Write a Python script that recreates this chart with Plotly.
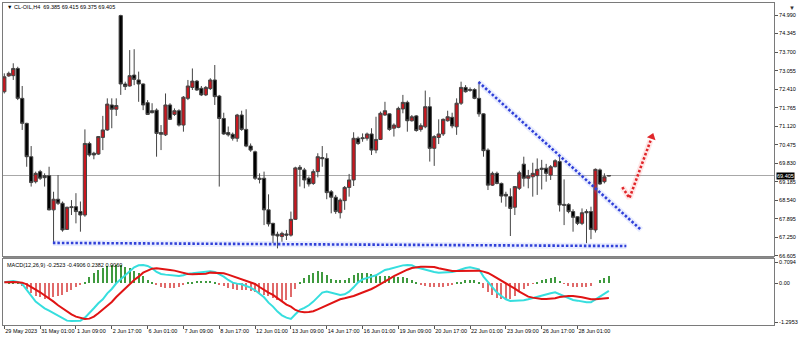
import plotly.graph_objects as go

# ---------------- data ----------------
opens = [
    72.32, 72.87, 72.88, 73.13, 72.09, 71.22, 70.06, 69.19, 69.54, 69.40,
    69.40, 68.21, 68.58, 68.44, 67.53, 68.32, 68.32, 68.15, 68.03, 70.52,
    70.18, 70.15, 70.73, 70.99, 71.86, 71.71, 74.97, 72.59, 72.52, 72.90,
    72.73, 72.59, 71.94, 71.66, 71.68, 70.90, 70.82, 71.86, 71.53, 71.66,
    71.16, 72.09, 72.47, 72.69, 72.44, 72.21, 72.43, 72.73, 72.17, 71.39,
    70.90, 70.84, 70.70, 71.51, 71.01, 70.43, 70.23, 69.31, 69.31, 68.21,
    67.74, 67.36, 67.28, 67.37, 67.33, 67.88, 69.69, 69.60, 69.31, 69.13,
    69.54, 70.03, 70.00, 68.84, 68.65, 68.11, 68.53, 68.99, 69.25, 70.70,
    70.72, 70.70, 70.85, 70.29, 70.66, 71.51, 71.55, 71.05, 71.08, 71.72,
    71.95, 71.31, 71.48, 71.01, 71.10, 71.80, 70.35, 70.73, 70.85, 71.31,
    71.43, 71.10, 71.92, 72.47, 72.40, 72.40, 72.09, 71.55, 70.29, 69.07,
    69.48, 69.13, 68.75, 68.67, 68.30, 68.96, 69.80, 69.31, 69.36, 69.40,
    69.66, 69.66, 69.42, 69.71, 69.89, 68.40, 68.40, 68.15, 67.97, 67.74,
    68.15, 68.15, 67.51, 69.60, 69.19, 69.385]
highs = [
    72.96, 73.02, 73.31, 73.19, 72.52, 71.24, 70.43, 69.54, 69.60, 69.48,
    69.71, 68.84, 69.42, 68.50, 68.32, 68.55, 68.79, 68.50, 71.01, 70.58,
    70.23, 70.78, 71.48, 72.09, 72.09, 72.09, 75.00, 72.67, 73.77, 73.80,
    73.02, 72.61, 72.03, 71.92, 71.74, 71.16, 72.26, 71.92, 71.74, 71.71,
    72.17, 72.73, 73.13, 72.73, 72.52, 72.52, 72.79, 73.25, 72.21, 71.59,
    71.11, 70.90, 71.55, 71.66, 71.71, 70.52, 70.27, 69.48, 69.54, 68.75,
    67.76, 67.45, 67.45, 67.51, 68.15, 69.71, 69.77, 69.67, 69.37, 69.62,
    70.18, 70.43, 70.18, 68.90, 68.73, 68.61, 69.04, 69.46, 70.91, 70.76,
    70.87, 70.90, 71.05, 71.45, 71.63, 71.97, 71.57, 71.22, 71.80, 72.21,
    72.01, 71.51, 71.51, 71.22, 72.36, 72.13, 70.81, 71.36, 71.39, 71.66,
    71.59, 72.09, 72.67, 72.55, 72.47, 72.44, 72.67, 71.57, 70.35, 69.54,
    69.54, 69.16, 68.84, 68.96, 69.04, 69.57, 70.06, 69.60, 69.85, 70.00,
    69.95, 69.81, 69.77, 69.97, 70.08, 69.27, 68.44, 68.23, 67.99, 68.26,
    68.23, 68.32, 69.65, 69.65, 69.48, 69.415]
lows = [
    72.26, 72.84, 72.73, 72.03, 70.99, 69.71, 69.02, 69.13, 69.25, 69.02,
    68.19, 67.05, 68.38, 67.45, 67.51, 68.03, 67.74, 67.45, 67.97, 70.06,
    69.97, 70.12, 70.29, 70.96, 71.05, 71.48, 72.21, 72.38, 72.50, 72.55,
    71.97, 71.68, 71.51, 71.57, 70.06, 70.29, 70.78, 71.34, 71.48, 71.11,
    70.93, 72.03, 72.38, 72.35, 72.17, 72.17, 72.38, 71.86, 69.02, 70.82,
    70.76, 70.62, 70.58, 70.96, 70.39, 70.23, 69.25, 69.13, 67.68, 67.63,
    67.05, 66.87, 67.10, 67.16, 67.28, 67.86, 69.02, 68.96, 69.02, 69.08,
    69.34, 69.71, 68.58, 68.09, 68.07, 67.91, 68.21, 68.67, 69.04, 70.47,
    70.58, 70.62, 70.12, 70.18, 70.64, 71.48, 70.96, 70.76, 71.05, 71.57,
    70.93, 71.28, 70.93, 70.93, 71.05, 69.89, 69.74, 70.50, 70.78, 71.28,
    71.05, 70.82, 71.86, 72.29, 72.32, 72.06, 71.45, 70.06, 68.90, 69.04,
    69.10, 68.46, 68.32, 67.30, 68.03, 68.90, 69.02, 68.96, 68.67, 68.73,
    68.92, 69.19, 69.25, 69.69, 68.15, 67.68, 68.09, 67.45, 67.68, 67.68,
    67.05, 67.19, 67.42, 69.08, 69.13, 69.375]
closes = [
    72.84, 72.96, 73.13, 72.09, 71.22, 70.06, 69.16, 69.48, 69.31, 69.33,
    68.21, 68.58, 68.44, 67.51, 68.30, 68.29, 68.15, 68.03, 70.52, 70.12,
    70.12, 70.76, 70.99, 71.89, 71.71, 71.84, 72.59, 72.50, 72.88, 72.75,
    72.59, 71.86, 71.53, 71.59, 70.87, 70.84, 71.86, 71.36, 71.66, 71.16,
    72.13, 72.52, 72.69, 72.38, 72.21, 72.47, 72.73, 72.15, 71.39, 70.85,
    70.82, 70.70, 71.51, 71.01, 70.43, 70.29, 69.31, 69.27, 68.21, 67.72,
    67.33, 67.30, 67.39, 67.33, 67.88, 69.67, 69.62, 69.25, 69.11, 69.54,
    70.06, 69.99, 68.81, 68.65, 68.15, 68.55, 68.99, 69.25, 70.70, 70.52,
    70.69, 70.85, 70.29, 70.66, 71.57, 71.66, 71.01, 71.16, 71.74, 71.95,
    71.31, 71.45, 70.97, 71.14, 71.80, 70.35, 70.76, 70.85, 71.36, 71.45,
    71.13, 71.92, 72.47, 72.32, 72.37, 72.09, 71.55, 70.27, 69.07, 69.48,
    69.13, 68.69, 68.69, 68.26, 69.02, 69.50, 69.31, 69.40, 69.48, 69.62,
    69.62, 69.48, 69.71, 69.92, 68.38, 68.37, 68.15, 67.95, 67.74, 68.11,
    68.11, 67.53, 69.62, 69.11, 69.36, 69.405]

macd_line = [
    0.033, 0.056, 0.078, 0.045, -0.022, -0.223, -0.424, -0.613, -0.725, -0.836,
    -0.914, -1.003, -1.093, -1.182, -1.249, -1.260, -1.260, -1.249, -1.148, -1.003,
    -0.836, -0.669, -0.535, -0.334, -0.190, 0.000, 0.134, 0.256, 0.390, 0.535,
    0.602, 0.613, 0.580, 0.502, 0.379, 0.312, 0.290, 0.279, 0.268, 0.245,
    0.268, 0.323, 0.334, 0.357, 0.368, 0.390, 0.401, 0.379, 0.312, 0.223,
    0.111, 0.022, -0.011, -0.033, -0.089, -0.145, -0.234, -0.357, -0.468, -0.647,
    -0.780, -0.948, -1.070, -1.148, -1.193, -1.037, -0.892, -0.825, -0.736, -0.613,
    -0.446, -0.312, -0.279, -0.312, -0.357, -0.390, -0.368, -0.279, -0.134, 0.033,
    0.134, 0.190, 0.223, 0.268, 0.357, 0.446, 0.479, 0.520, 0.560, 0.600,
    0.613, 0.602, 0.535, 0.491, 0.446, 0.401, 0.379, 0.357, 0.357, 0.357,
    0.379, 0.412, 0.468, 0.513, 0.535, 0.502, 0.468, 0.223, 0.056, -0.134,
    -0.312, -0.424, -0.535, -0.591, -0.591, -0.580, -0.569, -0.535, -0.491, -0.457,
    -0.412, -0.379, -0.334, -0.301, -0.368, -0.446, -0.502, -0.557, -0.580, -0.613,
    -0.635, -0.635, -0.535, -0.424, -0.334, -0.2523]
signal_line = [
    0.033, 0.045, 0.045, 0.033, 0.022, -0.033, -0.111, -0.212, -0.301, -0.401,
    -0.513, -0.613, -0.736, -0.836, -0.948, -1.037, -1.115, -1.159, -1.193, -1.182,
    -1.115, -1.003, -0.881, -0.758, -0.624, -0.457, -0.312, -0.156, -0.033, 0.111,
    0.223, 0.357, 0.424, 0.491, 0.502, 0.491, 0.479, 0.446, 0.424, 0.390,
    0.334, 0.312, 0.301, 0.301, 0.312, 0.323, 0.357, 0.357, 0.346, 0.334,
    0.290, 0.234, 0.178, 0.134, 0.089, 0.033, -0.022, -0.123, -0.223, -0.312,
    -0.390, -0.502, -0.613, -0.714, -0.780, -0.892, -0.948, -0.970, -0.959, -0.936,
    -0.870, -0.803, -0.736, -0.669, -0.591, -0.535, -0.502, -0.468, -0.424, -0.368,
    -0.312, -0.268, -0.190, -0.111, -0.033, 0.056, 0.150, 0.240, 0.320, 0.390,
    0.455, 0.513, 0.546, 0.557, 0.557, 0.557, 0.546, 0.502, 0.468, 0.446,
    0.412, 0.412, 0.412, 0.412, 0.412, 0.424, 0.424, 0.390, 0.346, 0.268,
    0.178, 0.111, 0.022, -0.067, -0.178, -0.279, -0.368, -0.446, -0.479, -0.513,
    -0.524, -0.524, -0.513, -0.502, -0.457, -0.435, -0.424, -0.424, -0.435, -0.468,
    -0.502, -0.535, -0.535, -0.520, -0.505, -0.4906]
histogram = [
    0.00, 0.02, 0.03, 0.01, -0.08, -0.20, -0.33, -0.42, -0.47, -0.52,
    -0.50, -0.46, -0.42, -0.38, -0.30, -0.22, -0.14, -0.06, 0.06, 0.20,
    0.33, 0.44, 0.52, 0.58, 0.61, 0.62, 0.60, 0.56, 0.50, 0.42,
    0.33, 0.24, 0.12, 0.02, -0.06, -0.12, -0.16, -0.17, -0.15, -0.12,
    -0.07, 0.02, 0.05, 0.08, 0.09, 0.09, 0.07, 0.03, -0.04, -0.10,
    -0.16, -0.20, -0.21, -0.22, -0.24, -0.26, -0.30, -0.34, -0.38, -0.44,
    -0.50, -0.55, -0.58, -0.55, -0.46, -0.20, 0.06, 0.17, 0.28, 0.36,
    0.42, 0.39, 0.28, 0.15, 0.10, 0.10, 0.12, 0.19, 0.28, 0.33,
    0.36, 0.33, 0.31, 0.28, 0.25, 0.24, 0.24, 0.22, 0.22, 0.20,
    0.17, 0.10, 0.02, -0.06, -0.10, -0.12, -0.13, -0.13, -0.12, -0.10,
    -0.06, 0.02, 0.06, 0.10, 0.12, 0.10, 0.05, -0.17, -0.29, -0.40,
    -0.49, -0.53, -0.55, -0.52, -0.41, -0.30, -0.20, -0.09, -0.02, 0.06,
    0.11, 0.14, 0.18, 0.20, 0.09, -0.02, -0.08, -0.13, -0.14, -0.14,
    -0.13, -0.10, 0.00, 0.11, 0.19, 0.2382]

tick_bars = [0, 8, 16, 24, 32, 40, 48, 56, 64, 72, 80, 88, 96, 104, 112, 120, 128]
tick_labels = ["29 May 2023", "31 May 01:00", "1 Jun 09:00", "2 Jun 17:00",
               "6 Jun 01:00", "7 Jun 09:00", "8 Jun 17:00", "12 Jun 01:00",
               "13 Jun 09:00", "14 Jun 17:00", "16 Jun 01:00", "19 Jun 09:00",
               "20 Jun 17:00", "22 Jun 01:00", "23 Jun 09:00", "26 Jun 17:00",
               "28 Jun 01:00"]
price_ticks = [74.990, 74.345, 73.700, 73.055, 72.410, 71.765, 71.120, 70.475,
               69.830, 69.185, 68.540, 67.895, 67.250, 66.605]
macd_ticks = [0.7094, 0.0, -1.2953]
macd_tick_labels = ["0.7094", "0.00", "-1.2953"]
last_price = 69.405

# drawn objects (bar index, price)
support_x = [10.85, 138.9]
support_y = [67.06, 66.95]
trend_x = [105.9, 142.2]
trend_y = [72.66, 67.51]
arrow_x = [138.0, 139.6, 144.3]
arrow_y = [69.00, 68.62, 70.62]
arrow_head = (144.6, 70.75)

bars = list(range(len(opens)))

FONT = "Liberation Sans"
FS = 5.5

fig = go.Figure()

# ---------------- main candles ----------------
fig.add_trace(go.Candlestick(
    x=bars, open=opens, high=highs, low=lows, close=closes,
    increasing=dict(fillcolor="#c8161e", line=dict(color="#444444", width=1)),
    decreasing=dict(fillcolor="#000000", line=dict(color="#444444", width=1)),
    whiskerwidth=0, showlegend=False, hoverinfo="skip",
    xaxis="x", yaxis="y"))

# trend lines (blue dotted with soft halo)
for xs, ys in [(support_x, support_y), (trend_x, trend_y)]:
    fig.add_trace(go.Scatter(x=xs, y=ys, mode="lines", xaxis="x", yaxis="y",
                             line=dict(color="rgba(120,140,255,0.16)", width=6),
                             showlegend=False, hoverinfo="skip"))
    fig.add_trace(go.Scatter(x=xs, y=ys, mode="lines", xaxis="x", yaxis="y",
                             line=dict(color="#3040d8", width=2.6, dash="2.5px,2px"),
                             showlegend=False, hoverinfo="skip"))

# red dotted arrow
fig.add_trace(go.Scatter(x=arrow_x, y=arrow_y, mode="lines", xaxis="x", yaxis="y",
                         line=dict(color="rgba(255,120,120,0.18)", width=6),
                         showlegend=False, hoverinfo="skip"))
fig.add_trace(go.Scatter(x=arrow_x, y=arrow_y, mode="lines", xaxis="x", yaxis="y",
                         line=dict(color="#e0262a", width=2.6, dash="2.5px,2px"),
                         showlegend=False, hoverinfo="skip"))
fig.add_trace(go.Scatter(x=[arrow_head[0]], y=[arrow_head[1]], mode="markers",
                         xaxis="x", yaxis="y",
                         marker=dict(symbol="triangle-up", size=8, angle=20,
                                     color="#e0262a", line=dict(width=0)),
                         showlegend=False, hoverinfo="skip"))

# ---------------- MACD panel ----------------
hist_colors = ["#3f9a3f" if v >= 0 else "#e06a6a" for v in histogram]
fig.add_trace(go.Bar(x=bars, y=histogram, marker=dict(color=hist_colors, line=dict(width=0)),
                     width=0.26, xaxis="x2", yaxis="y2", showlegend=False, hoverinfo="skip"))
fig.add_trace(go.Scatter(x=bars, y=macd_line, mode="lines", xaxis="x2", yaxis="y2",
                         line=dict(color="#36dede", width=2), showlegend=False,
                         hoverinfo="skip"))
fig.add_trace(go.Scatter(x=bars, y=signal_line, mode="lines", xaxis="x2", yaxis="y2",
                         line=dict(color="#e01414", width=2), showlegend=False,
                         hoverinfo="skip"))

W, H = 800, 338
ml, mr, mt, mb = 2, 25, 3, 13
ph = H - mt - mb
main_bottom_px = 256
macd_top_px = 259
main_dom = [1 - (main_bottom_px - mt) / ph, 1]
macd_dom = [0, 1 - (macd_top_px - mt) / ph]

x_range = [-0.29, 171.87]
axis_common = dict(showgrid=False, zeroline=False, showline=True, mirror=True,
                   linecolor="#7a7a7a", linewidth=1)

fig.update_layout(
    width=W, height=H,
    margin=dict(l=ml, r=mr, t=mt, b=mb),
    paper_bgcolor="white", plot_bgcolor="white",
    font=dict(family=FONT, size=FS, color="#000000"),
    boxgap=0.15, boxgroupgap=0.15,
    bargap=0,
    xaxis=dict(domain=[0, 1], anchor="y", range=x_range, showticklabels=False,
               ticks="", rangeslider=dict(visible=False), **axis_common),
    xaxis2=dict(domain=[0, 1], anchor="y2", range=x_range, matches="x",
                tickmode="array", tickvals=tick_bars, ticktext=tick_labels,
                ticks="outside", ticklen=3, tickcolor="#555", tickangle=0,
                ticklabelposition="outside right",
                tickfont=dict(family=FONT, size=FS, color="#000"), **axis_common),
    yaxis=dict(domain=main_dom, anchor="x", side="right", range=[66.604, 75.408],
               tickmode="array", tickvals=price_ticks,
               ticktext=["%.3f" % v for v in price_ticks],
               ticks="outside", ticklen=3, tickcolor="#555",
               tickfont=dict(family=FONT, size=FS, color="#000"), **axis_common),
    yaxis2=dict(domain=macd_dom, anchor="x2", side="right", range=[-1.395, 0.813],
                tickmode="array", tickvals=macd_ticks, ticktext=macd_tick_labels,
                ticks="outside", ticklen=3, tickcolor="#555",
                tickfont=dict(family=FONT, size=FS, color="#000"), **axis_common),
)

# current price line
fig.add_shape(type="line", xref="x domain", yref="y", x0=0, x1=1,
              y0=last_price, y1=last_price, line=dict(color="#a8a8a8", width=1),
              layer="below")

# separator between panels
fig.add_shape(type="line", xref="paper", yref="paper", x0=0, x1=1,
              y0=(H - mb - 257.5) / ph, y1=(H - mb - 257.5) / ph,
              line=dict(color="#8a8a8a", width=2))

annotations = [
    dict(text="▼ CL-OIL,H4  69.385 69.415 69.375 69.405", xref="paper", yref="paper",
         x=(4 - ml) / (W - ml - mr), y=(H - mb - 7) / ph, xanchor="left",
         yanchor="middle", showarrow=False, font=dict(size=FS, color="#000")),
    dict(text="MACD(12,26,9) -0.2523 -0.4906 0.2382 0.0060", xref="paper", yref="paper",
         x=(4 - ml) / (W - ml - mr), y=(H - mb - 265) / ph, xanchor="left",
         yanchor="middle", showarrow=False, font=dict(size=FS, color="#000")),
    dict(text="%.3f" % last_price, xref="paper", yref="y", x=1.002, y=last_price,
         xanchor="left", yanchor="middle", showarrow=False, bgcolor="#000000",
         borderpad=0, font=dict(size=FS, color="#ffffff")),
    dict(text="▼", xref="paper", yref="paper", x=(793 - ml) / (W - ml - mr),
         y=1.0, xanchor="center", yanchor="top", showarrow=False,
         font=dict(size=6, color="#333")),
]
fig.update_layout(annotations=annotations)

fig.write_html("out.html")
